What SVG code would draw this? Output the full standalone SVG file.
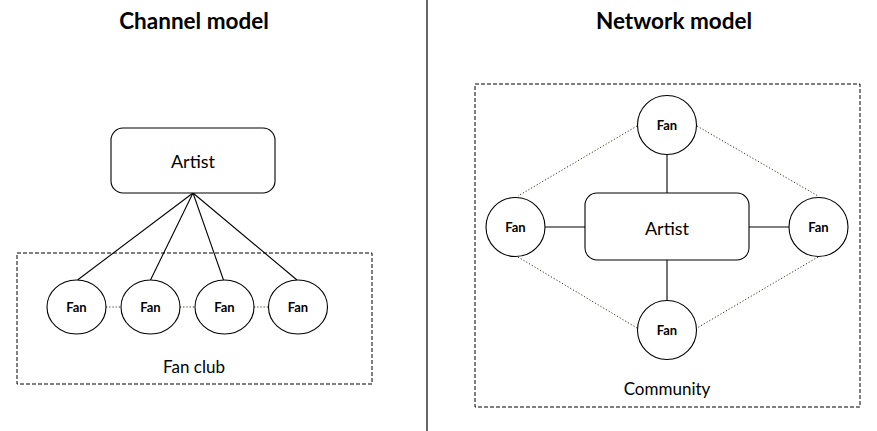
<svg xmlns="http://www.w3.org/2000/svg" width="877" height="431" viewBox="0 0 877 431">
<style>
text{font-family:Lato,"Open Sans","Liberation Sans",sans-serif;fill:#000;text-anchor:middle;dominant-baseline:central}
.title{font-size:22.5px;font-weight:bold}
.artist{font-size:18px}
.fan{font-size:13px;font-weight:bold}
.grp{font-size:17px}
.node{fill:#fff;stroke:#000;stroke-width:1.1}
.solid{stroke:#000;stroke-width:1.1;fill:none}
.dot{stroke:#3a2f1a;stroke-width:1;stroke-dasharray:1.2 2;fill:none}
.frame{fill:none;stroke:#000;stroke-width:1;stroke-dasharray:4 2}
</style>
<rect width="877" height="431" fill="#fff"/>
<line x1="427" y1="0" x2="427" y2="431" stroke="#000" stroke-width="1.2"/>
<text class="title" x="194" y="20">Channel model</text>
<text class="title" x="674" y="20">Network model</text>

<g id="fanclub"><rect class="frame" x="17" y="253" width="355" height="131"/><text class="grp" x="194" y="366">Fan club</text></g>
<g id="community"><rect class="frame" x="475" y="84" width="385" height="323"/><text class="grp" x="667" y="388">Community</text></g>

<g id="connectors">
<line class="solid" x1="193" y1="193" x2="77.5" y2="280"/>
<line class="solid" x1="193" y1="193" x2="150.5" y2="280"/>
<line class="solid" x1="193" y1="193" x2="223.5" y2="280"/>
<line class="solid" x1="193" y1="193" x2="297" y2="280"/>
<line class="dot" x1="106" y1="307" x2="121" y2="307"/>
<line class="dot" x1="180" y1="307" x2="195" y2="307"/>
<line class="dot" x1="254" y1="307" x2="269" y2="307"/>
<line class="solid" x1="667" y1="154" x2="667" y2="193"/>
<line class="solid" x1="667" y1="260" x2="667" y2="301"/>
<line class="solid" x1="545" y1="227" x2="585" y2="227"/>
<line class="solid" x1="749" y1="227" x2="789" y2="227"/>
<line class="dot" x1="637" y1="126" x2="518" y2="196"/>
<line class="dot" x1="697" y1="126" x2="818" y2="196"/>
<line class="dot" x1="518" y1="257" x2="637" y2="328"/>
<line class="dot" x1="818" y1="257" x2="697" y2="328"/>
</g>

<g id="artist1"><rect class="node" x="111" y="128" width="164" height="65" rx="12"/><text class="artist" x="193" y="161">Artist</text></g>
<g id="fan1"><ellipse class="node" cx="76.5" cy="307" rx="29.5" ry="27"/><text class="fan" x="76.5" y="307">Fan</text></g>
<g id="fan2"><ellipse class="node" cx="150.5" cy="307" rx="29.5" ry="27"/><text class="fan" x="150.5" y="307">Fan</text></g>
<g id="fan3"><ellipse class="node" cx="224.5" cy="307" rx="29.5" ry="27"/><text class="fan" x="224.5" y="307">Fan</text></g>
<g id="fan4"><ellipse class="node" cx="298" cy="307" rx="29.5" ry="27"/><text class="fan" x="298" y="307">Fan</text></g>

<g id="artist2"><rect class="node" x="585" y="193" width="164" height="67" rx="12"/><text class="artist" x="667" y="228">Artist</text></g>
<g id="fanTop"><circle class="node" cx="667" cy="125" r="29.5"/><text class="fan" x="667" y="125">Fan</text></g>
<g id="fanLeft"><circle class="node" cx="515.5" cy="227" r="29.5"/><text class="fan" x="515.5" y="227">Fan</text></g>
<g id="fanRight"><circle class="node" cx="818.5" cy="227" r="29.5"/><text class="fan" x="818.5" y="227">Fan</text></g>
<g id="fanBottom"><circle class="node" cx="667" cy="330" r="29.5"/><text class="fan" x="667" y="330">Fan</text></g>
</svg>
